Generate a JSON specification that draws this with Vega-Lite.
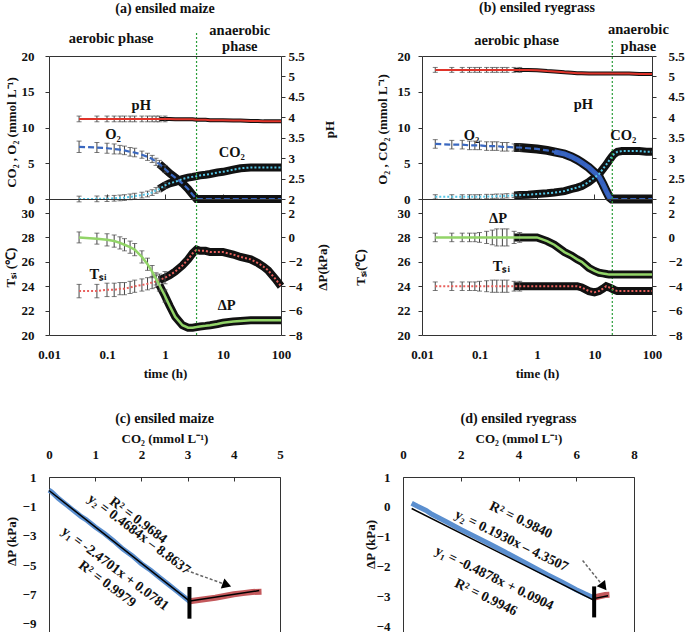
{
  "$schema": "https://vega.github.io/schema/vega-lite/v6.json",
  "background": "white",
  "padding": {"left": 3, "top": 0, "right": 2, "bottom": 2},
  "config": {
    "font": "Liberation Serif",
    "view": {"stroke": "#333", "strokeWidth": 1},
    "axis": {
      "labelFont": "Liberation Serif", "labelFontSize": 13, "labelFontWeight": "bold", "labelColor": "#111",
      "titleFont": "Liberation Serif", "titleFontSize": 13, "titleFontWeight": "bold", "titleColor": "#111",
      "grid": false, "domain": false, "tickColor": "#333", "tickSize": 4, "labelFlush": false, "labelOverlap": false, "tickCount": 20
    },
    "axisY": {"titleAngle": 270, "titleAlign": "center", "titleBaseline": "middle", "tickCount": 20},
    "title": {"font": "Liberation Serif", "fontSize": 14, "fontWeight": "bold", "color": "#111", "anchor": "middle"},
    "text": {"font": "Liberation Serif", "fontWeight": "bold", "fontSize": 14.5, "color": "#111"}
  },
  "datasets": {
    "ts": [
      {"p":"a","t":0.033,"O2":7.3,"CO2":0,"pH":3.96,"Tsi":23.6,"dP":0,"eO2":0.8,"eCO2":0.4,"epH":0.07,"eT":0.55,"edP":0.45},
      {"p":"a","t":0.067,"O2":7.2,"CO2":0.02,"pH":3.96,"Tsi":23.6,"dP":-0.1,"eO2":0.7,"eCO2":0.4,"epH":0.07,"eT":0.55,"edP":0.45},
      {"p":"a","t":0.1,"O2":7.1,"CO2":0.05,"pH":3.96,"Tsi":23.7,"dP":-0.2,"eO2":0.7,"eCO2":0.4,"epH":0.07,"eT":0.55,"edP":0.5},
      {"p":"a","t":0.133,"O2":7.0,"CO2":0.1,"pH":3.96,"Tsi":23.7,"dP":-0.3,"eO2":0.7,"eCO2":0.4,"epH":0.07,"eT":0.55,"edP":0.5},
      {"p":"a","t":0.167,"O2":6.9,"CO2":0.15,"pH":3.96,"Tsi":23.8,"dP":-0.45,"eO2":0.6,"eCO2":0.4,"epH":0.07,"eT":0.5,"edP":0.5},
      {"p":"a","t":0.2,"O2":6.8,"CO2":0.2,"pH":3.96,"Tsi":23.8,"dP":-0.6,"eO2":0.6,"eCO2":0.4,"epH":0.07,"eT":0.5,"edP":0.5},
      {"p":"a","t":0.25,"O2":6.6,"CO2":0.3,"pH":3.96,"Tsi":23.9,"dP":-0.8,"eO2":0.6,"eCO2":0.4,"epH":0.07,"eT":0.5,"edP":0.5},
      {"p":"a","t":0.3,"O2":6.5,"CO2":0.4,"pH":3.96,"Tsi":24.0,"dP":-1.0,"eO2":0.6,"eCO2":0.4,"epH":0.07,"eT":0.5,"edP":0.5},
      {"p":"a","t":0.4,"O2":6.2,"CO2":0.55,"pH":3.96,"Tsi":24.1,"dP":-1.6,"eO2":0.5,"eCO2":0.4,"epH":0.07,"eT":0.5,"edP":0.5},
      {"p":"a","t":0.5,"O2":5.9,"CO2":0.7,"pH":3.96,"Tsi":24.2,"dP":-2.2,"eO2":0.5,"eCO2":0.4,"epH":0.07,"eT":0.5,"edP":0.5},
      {"p":"a","t":0.6,"O2":5.6,"CO2":0.9,"pH":3.96,"Tsi":24.3,"dP":-2.8,"eO2":0.5,"eCO2":0.4,"epH":0.07,"eT":0.5,"edP":0.5},
      {"p":"a","t":0.7,"O2":5.2,"CO2":1.2,"pH":3.96,"Tsi":24.4,"dP":-3.4,"eO2":0.5,"eCO2":0.4,"epH":0.07,"eT":0.5,"edP":0.5},
      {"p":"a","t":0.8,"O2":4.9,"CO2":1.4,"pH":3.96,"Tsi":24.5,"dP":-3.9,"eO2":0.5,"eCO2":0.4,"epH":0.07,"eT":0.5,"edP":0.5},
      {"p":"a","t":1,"O2":4.2,"CO2":1.9,"pH":3.96,"Tsi":24.7,"dP":-4.8,"eO2":0.5,"eCO2":0.4,"epH":0.07,"eT":0.5,"edP":0.5},
      {"p":"a","t":1.2,"O2":3.6,"CO2":2.2,"pH":3.96,"Tsi":24.9,"dP":-5.6},
      {"p":"a","t":1.5,"O2":3.0,"CO2":2.4,"pH":3.95,"Tsi":25.2,"dP":-6.5},
      {"p":"a","t":2,"O2":2.2,"CO2":2.8,"pH":3.95,"Tsi":25.7,"dP":-7.2},
      {"p":"a","t":2.5,"O2":1.4,"CO2":3.0,"pH":3.95,"Tsi":26.2,"dP":-7.4},
      {"p":"a","t":3,"O2":0.6,"CO2":3.1,"pH":3.95,"Tsi":26.7,"dP":-7.4},
      {"p":"a","t":3.5,"O2":0,"CO2":3.2,"pH":3.94,"Tsi":27.0,"dP":-7.35},
      {"p":"a","t":4,"O2":0,"CO2":3.3,"pH":3.94,"Tsi":26.9,"dP":-7.3},
      {"p":"a","t":5,"O2":0,"CO2":3.4,"pH":3.94,"Tsi":26.9,"dP":-7.25},
      {"p":"a","t":6,"O2":0,"CO2":3.5,"pH":3.93,"Tsi":26.8,"dP":-7.2},
      {"p":"a","t":8,"O2":0,"CO2":3.7,"pH":3.93,"Tsi":26.8,"dP":-7.1},
      {"p":"a","t":10,"O2":0,"CO2":3.8,"pH":3.93,"Tsi":26.8,"dP":-7.0},
      {"p":"a","t":15,"O2":0,"CO2":4.1,"pH":3.92,"Tsi":26.6,"dP":-6.9},
      {"p":"a","t":20,"O2":0,"CO2":4.3,"pH":3.92,"Tsi":26.4,"dP":-6.85},
      {"p":"a","t":30,"O2":0,"CO2":4.4,"pH":3.91,"Tsi":26.2,"dP":-6.8},
      {"p":"a","t":40,"O2":0,"CO2":4.4,"pH":3.91,"Tsi":25.9,"dP":-6.8},
      {"p":"a","t":50,"O2":0,"CO2":4.4,"pH":3.9,"Tsi":25.6,"dP":-6.8},
      {"p":"a","t":60,"O2":0,"CO2":4.4,"pH":3.9,"Tsi":25.3,"dP":-6.8},
      {"p":"a","t":80,"O2":0,"CO2":4.4,"pH":3.9,"Tsi":24.6,"dP":-6.8},
      {"p":"a","t":100,"O2":0,"CO2":4.4,"pH":3.9,"Tsi":24.0,"dP":-6.8},
      {"p":"b","t":0.017,"O2":7.7,"CO2":0.3,"pH":5.16,"Tsi":24.0,"dP":0,"eO2":0.6,"eCO2":0.3,"epH":0.06,"eT":0.35,"edP":0.35},
      {"p":"b","t":0.033,"O2":7.6,"CO2":0.3,"pH":5.16,"Tsi":24.0,"dP":0,"eO2":0.6,"eCO2":0.3,"epH":0.06,"eT":0.35,"edP":0.35},
      {"p":"b","t":0.05,"O2":7.6,"CO2":0.3,"pH":5.16,"Tsi":24.0,"dP":0,"eO2":0.6,"eCO2":0.3,"epH":0.06,"eT":0.35,"edP":0.35},
      {"p":"b","t":0.067,"O2":7.5,"CO2":0.3,"pH":5.16,"Tsi":24.0,"dP":0,"eO2":0.6,"eCO2":0.3,"epH":0.06,"eT":0.35,"edP":0.35},
      {"p":"b","t":0.083,"O2":7.5,"CO2":0.3,"pH":5.16,"Tsi":24.0,"dP":0,"eO2":0.6,"eCO2":0.3,"epH":0.06,"eT":0.35,"edP":0.35},
      {"p":"b","t":0.1,"O2":7.5,"CO2":0.3,"pH":5.16,"Tsi":24.0,"dP":0,"eO2":0.6,"eCO2":0.3,"epH":0.06,"eT":0.4,"edP":0.4},
      {"p":"b","t":0.133,"O2":7.4,"CO2":0.35,"pH":5.16,"Tsi":24.0,"dP":0,"eO2":0.6,"eCO2":0.3,"epH":0.06,"eT":0.45,"edP":0.5},
      {"p":"b","t":0.167,"O2":7.4,"CO2":0.35,"pH":5.16,"Tsi":24.0,"dP":0,"eO2":0.6,"eCO2":0.3,"epH":0.06,"eT":0.5,"edP":0.6},
      {"p":"b","t":0.2,"O2":7.4,"CO2":0.4,"pH":5.16,"Tsi":24.0,"dP":0,"eO2":0.6,"eCO2":0.3,"epH":0.06,"eT":0.5,"edP":0.7},
      {"p":"b","t":0.25,"O2":7.3,"CO2":0.4,"pH":5.16,"Tsi":24.0,"dP":0,"eO2":0.6,"eCO2":0.3,"epH":0.06,"eT":0.5,"edP":0.7},
      {"p":"b","t":0.3,"O2":7.3,"CO2":0.45,"pH":5.16,"Tsi":24.0,"dP":0,"eO2":0.6,"eCO2":0.3,"epH":0.06,"eT":0.5,"edP":0.7},
      {"p":"b","t":0.4,"O2":7.2,"CO2":0.5,"pH":5.16,"Tsi":24.0,"dP":0,"eO2":0.5,"eCO2":0.3,"epH":0.06,"eT":0.4,"edP":0.5},
      {"p":"b","t":0.5,"O2":7.2,"CO2":0.55,"pH":5.16,"Tsi":24.0,"dP":0,"eO2":0.5,"eCO2":0.3,"epH":0.06,"eT":0.4,"edP":0.4},
      {"p":"b","t":0.7,"O2":7.1,"CO2":0.6,"pH":5.16,"Tsi":24.0,"dP":0},
      {"p":"b","t":1,"O2":7.0,"CO2":0.7,"pH":5.15,"Tsi":24.0,"dP":0},
      {"p":"b","t":1.5,"O2":6.8,"CO2":0.8,"pH":5.13,"Tsi":24.0,"dP":-0.3},
      {"p":"b","t":2,"O2":6.6,"CO2":0.9,"pH":5.12,"Tsi":24.0,"dP":-0.6},
      {"p":"b","t":3,"O2":6.3,"CO2":1.1,"pH":5.1,"Tsi":24.0,"dP":-1.2},
      {"p":"b","t":4,"O2":5.9,"CO2":1.4,"pH":5.09,"Tsi":24.0,"dP":-1.5},
      {"p":"b","t":5,"O2":5.5,"CO2":1.6,"pH":5.08,"Tsi":24.0,"dP":-1.8},
      {"p":"b","t":6,"O2":5.1,"CO2":1.8,"pH":5.08,"Tsi":23.9,"dP":-2.0},
      {"p":"b","t":8,"O2":4.4,"CO2":2.4,"pH":5.07,"Tsi":23.6,"dP":-2.5},
      {"p":"b","t":10,"O2":3.7,"CO2":3.0,"pH":5.07,"Tsi":23.5,"dP":-2.75},
      {"p":"b","t":12,"O2":3.1,"CO2":3.5,"pH":5.07,"Tsi":23.6,"dP":-2.9},
      {"p":"b","t":14,"O2":2.1,"CO2":4.2,"pH":5.07,"Tsi":23.8,"dP":-2.95},
      {"p":"b","t":16,"O2":1.1,"CO2":4.8,"pH":5.07,"Tsi":24.0,"dP":-3.0},
      {"p":"b","t":18,"O2":0.3,"CO2":5.4,"pH":5.07,"Tsi":23.9,"dP":-3.05},
      {"p":"b","t":20,"O2":0,"CO2":5.9,"pH":5.07,"Tsi":23.8,"dP":-3.05},
      {"p":"b","t":22,"O2":0,"CO2":6.3,"pH":5.07,"Tsi":23.7,"dP":-3.05},
      {"p":"b","t":25,"O2":0,"CO2":6.6,"pH":5.07,"Tsi":23.6,"dP":-3.05},
      {"p":"b","t":30,"O2":0,"CO2":6.7,"pH":5.07,"Tsi":23.6,"dP":-3.05},
      {"p":"b","t":40,"O2":0,"CO2":6.7,"pH":5.07,"Tsi":23.6,"dP":-3.05},
      {"p":"b","t":60,"O2":0,"CO2":6.7,"pH":5.06,"Tsi":23.6,"dP":-3.05},
      {"p":"b","t":80,"O2":0,"CO2":6.6,"pH":5.06,"Tsi":23.6,"dP":-3.05},
      {"p":"b","t":100,"O2":0,"CO2":6.6,"pH":5.06,"Tsi":23.6,"dP":-3.05}
    ],
    "vl": [
      {"p":"a1","t":3.5,"v":0,"v2":23.5},
      {"p":"a2","t":3.5,"v":20,"v2":31.15},
      {"p":"b1","t":20.4,"v":0,"v2":22.1},
      {"p":"b2","t":20.4,"v":20,"v2":31.15}
    ],
    "lab": [
      {"p":"a1","t":0.39,"v":13.0,"txt":"pH"},
      {"p":"a1","t":0.127,"v":8.9,"txt":"O₂"},
      {"p":"a1","t":14.2,"v":6.5,"txt":"CO₂"},
      {"p":"a1","t":0.118,"v":22.4,"txt":"aerobic phase"},
      {"p":"a1","t":19.5,"v":23.5,"txt":"anaerobic\nphase"},
      {"p":"a2","t":0.07,"v":24.9,"txt":"Tₛᵢ"},
      {"p":"a2","t":11.6,"v":22.35,"txt":"ΔP"},
      {"p":"b1","t":0.073,"v":8.85,"txt":"O₂"},
      {"p":"b1","t":6.4,"v":13.1,"txt":"pH"},
      {"p":"b1","t":31.7,"v":8.85,"txt":"CO₂"},
      {"p":"b1","t":0.44,"v":22.1,"txt":"aerobic phase"},
      {"p":"b1","t":57.9,"v":23.6,"txt":"anaerobic\nphase"},
      {"p":"b2","t":0.21,"v":29.5,"txt":"ΔP"},
      {"p":"b2","t":0.24,"v":25.55,"txt":"Tₛᵢ"}
    ],
    "sc": [
      {"p":"c","g":"y1","x":0,"y":0.1},{"p":"c","g":"y1","x":0.05,"y":0.0},{"p":"c","g":"y1","x":0.1,"y":-0.15},
      {"p":"c","g":"y1","x":0.2,"y":-0.45},{"p":"c","g":"y1","x":0.3,"y":-0.7},{"p":"c","g":"y1","x":0.4,"y":-0.95},
      {"p":"c","g":"y1","x":0.5,"y":-1.2},{"p":"c","g":"y1","x":0.6,"y":-1.45},{"p":"c","g":"y1","x":0.7,"y":-1.7},
      {"p":"c","g":"y1","x":0.8,"y":-1.9},{"p":"c","g":"y1","x":0.9,"y":-2.15},{"p":"c","g":"y1","x":1.0,"y":-2.4},
      {"p":"c","g":"y1","x":1.2,"y":-2.85},{"p":"c","g":"y1","x":1.4,"y":-3.35},{"p":"c","g":"y1","x":1.6,"y":-3.9},
      {"p":"c","g":"y1","x":1.8,"y":-4.35},{"p":"c","g":"y1","x":2.0,"y":-4.9},{"p":"c","g":"y1","x":2.2,"y":-5.35},
      {"p":"c","g":"y1","x":2.4,"y":-5.85},{"p":"c","g":"y1","x":2.6,"y":-6.35},{"p":"c","g":"y1","x":2.8,"y":-6.85},
      {"p":"c","g":"y1","x":3.0,"y":-7.35},{"p":"c","g":"y1","x":3.05,"y":-7.5},
      {"p":"c","g":"y2","x":3.05,"y":-7.45},{"p":"c","g":"y2","x":3.2,"y":-7.38},{"p":"c","g":"y2","x":3.4,"y":-7.3},
      {"p":"c","g":"y2","x":3.6,"y":-7.22},{"p":"c","g":"y2","x":3.8,"y":-7.1},{"p":"c","g":"y2","x":4.0,"y":-6.98},
      {"p":"c","g":"y2","x":4.2,"y":-6.9},{"p":"c","g":"y2","x":4.4,"y":-6.82},{"p":"c","g":"y2","x":4.6,"y":-6.8},
      {"p":"d","g":"y1","x":0.3,"y":0.12},{"p":"d","g":"y1","x":0.5,"y":0.02},{"p":"d","g":"y1","x":0.8,"y":-0.12},
      {"p":"d","g":"y1","x":1.0,"y":-0.25},{"p":"d","g":"y1","x":1.5,"y":-0.5},{"p":"d","g":"y1","x":2.0,"y":-0.76},
      {"p":"d","g":"y1","x":2.5,"y":-1.0},{"p":"d","g":"y1","x":3.0,"y":-1.25},{"p":"d","g":"y1","x":3.5,"y":-1.5},
      {"p":"d","g":"y1","x":4.0,"y":-1.76},{"p":"d","g":"y1","x":4.5,"y":-2.02},{"p":"d","g":"y1","x":5.0,"y":-2.28},
      {"p":"d","g":"y1","x":5.5,"y":-2.52},{"p":"d","g":"y1","x":6.0,"y":-2.78},{"p":"d","g":"y1","x":6.3,"y":-2.92},
      {"p":"d","g":"y1","x":6.6,"y":-3.05},
      {"p":"d","g":"y2","x":6.6,"y":-3.05},{"p":"d","g":"y2","x":6.8,"y":-3.0},{"p":"d","g":"y2","x":7.0,"y":-2.96},
      {"p":"d","g":"y2","x":7.15,"y":-2.95}
    ],
    "fit": [
      {"p":"c","g":"y1","x":0,"y":0.08},{"p":"c","g":"y1","x":3.05,"y":-7.46},
      {"p":"c","g":"y2","x":3.05,"y":-7.43},{"p":"c","g":"y2","x":4.55,"y":-6.73},
      {"p":"d","g":"y1","x":0.3,"y":-0.056},{"p":"d","g":"y1","x":6.6,"y":-3.13},
      {"p":"d","g":"y2","x":6.6,"y":-3.08},{"p":"d","g":"y2","x":7.1,"y":-2.98}
    ],
    "bar": [
      {"p":"c","x":3.04,"y":-8.64,"y2":-6.48},
      {"p":"d","x":6.62,"y":-3.71,"y2":-2.67}
    ],
    "arr": [
      {"p":"c","x":2.97,"y":-5.35,"x2":3.85,"y2":-6.35},
      {"p":"d","x":6.22,"y":-1.8,"x2":6.95,"y2":-2.68}
    ],
    "eq": [
      {"p":"c","x":1.93,"y":-1.95,"txt":"R² = 0.9684"},
      {"p":"c","x":1.95,"y":-2.9,"txt":"y₂ = 0.4684x – 8.8637"},
      {"p":"c","x":1.43,"y":-5.24,"txt":"y₁ = -2.4701x + 0.0781"},
      {"p":"c","x":1.26,"y":-6.29,"txt":"R² = 0.9979"},
      {"p":"d","x":4.08,"y":-0.45,"txt":"R² = 0.9840"},
      {"p":"d","x":3.76,"y":-1.14,"txt":"y₂ = 0.1930x – 4.3507"},
      {"p":"d","x":3.16,"y":-2.4,"txt":"y₁ = -0.4878x + 0.0904"},
      {"p":"d","x":2.87,"y":-3.04,"txt":"R² = 0.9946"}
    ]
  },
  "vconcat": [
    {
      "hconcat": [
        {
          "vconcat": [
            {
              "width": 232, "height": 143,
              "title": {"text": "(a) ensiled maize", "offset": 7},
              "encoding": {"x": {"field": "t", "type": "quantitative", "scale": {"type": "log", "domain": [0.01, 100]}, "axis": {"values": [0.1, 1, 10], "labels": false, "title": null, "tickSize": -5}}},
              "layer": [
                {"layer": [
                  {"data": {"name": "ts"}, "transform": [{"filter": "datum.p=='a' && datum.t>=0.8"}], "mark": {"type": "line", "color": "#111", "strokeWidth": 8}, "encoding": {"y": {"field": "O2", "type": "quantitative", "title": "CO₂ , O₂ (mmol L⁻¹)", "scale": {"domain": [0, 20]}, "axis": {"values": [0, 5, 10, 15, 20], "format": "~g", "tickCount": 20, "labelPadding": 11, "titleX": -38, "titleY": 76}}}},
                  {"data": {"name": "ts"}, "transform": [{"filter": "datum.p=='a' && datum.t>=0.8"}], "mark": {"type": "line", "color": "#111", "strokeWidth": 8}, "encoding": {"y": {"field": "CO2", "type": "quantitative", "title": "CO₂ , O₂ (mmol L⁻¹)", "scale": {"domain": [0, 20]}}}},
                  {"data": {"name": "ts"}, "transform": [{"filter": "datum.p=='a' && isValid(datum.eO2)"}], "mark": {"type": "errorbar", "ticks": {"size": 5}, "color": "#444"}, "encoding": {"y": {"field": "O2", "type": "quantitative", "title": "CO₂ , O₂ (mmol L⁻¹)", "scale": {"domain": [0, 20]}}, "yError": {"field": "eO2"}}},
                  {"data": {"name": "ts"}, "transform": [{"filter": "datum.p=='a' && isValid(datum.eCO2)"}], "mark": {"type": "errorbar", "ticks": {"size": 5}, "color": "#444"}, "encoding": {"y": {"field": "CO2", "type": "quantitative", "title": "CO₂ , O₂ (mmol L⁻¹)", "scale": {"domain": [0, 20]}}, "yError": {"field": "eCO2"}}},
                  {"data": {"name": "ts"}, "transform": [{"filter": "datum.p=='a'"}], "mark": {"type": "line", "color": "#3a68c0", "strokeWidth": 2.2, "strokeDash": [6, 3]}, "encoding": {"y": {"field": "O2", "type": "quantitative", "title": "CO₂ , O₂ (mmol L⁻¹)", "scale": {"domain": [0, 20]}}}},
                  {"data": {"name": "ts"}, "transform": [{"filter": "datum.p=='a'"}], "mark": {"type": "line", "color": "#55c6e6", "strokeWidth": 2, "strokeDash": [2, 2]}, "encoding": {"y": {"field": "CO2", "type": "quantitative", "title": "CO₂ , O₂ (mmol L⁻¹)", "scale": {"domain": [0, 20]}}}},
                  {"data": {"name": "vl"}, "transform": [{"filter": "datum.p=='a1'"}], "mark": {"type": "rule", "color": "#2a9d3a", "strokeDash": [2, 2], "strokeWidth": 1.2}, "encoding": {"y": {"field": "v", "type": "quantitative", "title": "CO₂ , O₂ (mmol L⁻¹)", "scale": {"domain": [0, 20]}}, "y2": {"field": "v2"}}},
                  {"data": {"name": "lab"}, "transform": [{"filter": "datum.p=='a1'"}], "mark": {"type": "text", "lineBreak": "\n"}, "encoding": {"y": {"field": "v", "type": "quantitative", "title": "CO₂ , O₂ (mmol L⁻¹)", "scale": {"domain": [0, 20]}}, "text": {"field": "txt"}}}
                ]},
                {"layer": [
                  {"data": {"name": "ts"}, "transform": [{"filter": "datum.p=='a' && datum.t>=0.8"}], "mark": {"type": "line", "color": "#111", "strokeWidth": 4}, "encoding": {"y": {"field": "pH", "type": "quantitative", "title": "pH", "scale": {"domain": [2, 5.5]}, "axis": {"orient": "right", "values": [2, 2.5, 3, 3.5, 4, 4.5, 5, 5.5], "tickCount": 20, "format": "~g", "labelPadding": 3, "titleX": 48, "titleY": 73}}}},
                  {"data": {"name": "ts"}, "transform": [{"filter": "datum.p=='a' && isValid(datum.epH)"}], "mark": {"type": "errorbar", "ticks": {"size": 5}, "color": "#444"}, "encoding": {"y": {"field": "pH", "type": "quantitative", "title": "pH", "scale": {"domain": [2, 5.5]}}, "yError": {"field": "epH"}}},
                  {"data": {"name": "ts"}, "transform": [{"filter": "datum.p=='a'"}], "mark": {"type": "line", "color": "#e0342a", "strokeWidth": 2}, "encoding": {"y": {"field": "pH", "type": "quantitative", "title": "pH", "scale": {"domain": [2, 5.5]}}}}
                ]}
              ],
              "resolve": {"scale": {"y": "independent"}}
            },
            {
              "width": 232, "height": 136,
              "encoding": {"x": {"field": "t", "type": "quantitative", "scale": {"type": "log", "domain": [0.01, 100]}, "axis": {"values": [0.01, 0.1, 1, 10, 100], "format": "~g", "title": "time (h)", "ticks": false, "labelPadding": 13, "titlePadding": 6}}},
              "layer": [
                {"layer": [
                  {"data": {"name": "ts"}, "transform": [{"filter": "datum.p=='a' && datum.t>=0.8"}], "mark": {"type": "line", "color": "#111", "strokeWidth": 8}, "encoding": {"y": {"field": "Tsi", "type": "quantitative", "title": "Tₛᵢ (℃)", "scale": {"domain": [20, 31.15], "nice": false}, "axis": {"values": [20, 22, 24, 26, 28, 30], "format": "~g", "tickCount": 20, "labelPadding": 11, "titleBaseline": "bottom", "titlePadding": 4}}}},
                  {"data": {"name": "ts"}, "transform": [{"filter": "datum.p=='a' && isValid(datum.eT)"}], "mark": {"type": "errorbar", "ticks": {"size": 5}, "color": "#444"}, "encoding": {"y": {"field": "Tsi", "type": "quantitative", "title": "Tₛᵢ (℃)", "scale": {"domain": [20, 31.15], "nice": false}}, "yError": {"field": "eT"}}},
                  {"data": {"name": "ts"}, "transform": [{"filter": "datum.p=='a'"}], "mark": {"type": "line", "color": "#e8605c", "strokeWidth": 2, "strokeDash": [2, 2]}, "encoding": {"y": {"field": "Tsi", "type": "quantitative", "title": "Tₛᵢ (℃)", "scale": {"domain": [20, 31.15], "nice": false}}}},
                  {"data": {"name": "vl"}, "transform": [{"filter": "datum.p=='a2'"}], "mark": {"type": "rule", "color": "#2a9d3a", "strokeDash": [2, 2], "strokeWidth": 1.2}, "encoding": {"y": {"field": "v", "type": "quantitative", "title": "Tₛᵢ (℃)", "scale": {"domain": [20, 31.15], "nice": false}}, "y2": {"field": "v2"}}},
                  {"data": {"name": "lab"}, "transform": [{"filter": "datum.p=='a2'"}], "mark": {"type": "text"}, "encoding": {"y": {"field": "v", "type": "quantitative", "title": "Tₛᵢ (℃)", "scale": {"domain": [20, 31.15], "nice": false}}, "text": {"field": "txt"}}}
                ]},
                {"layer": [
                  {"data": {"name": "ts"}, "transform": [{"filter": "datum.p=='a' && datum.t>=0.8"}], "mark": {"type": "line", "color": "#111", "strokeWidth": 8}, "encoding": {"y": {"field": "dP", "type": "quantitative", "title": "ΔP(kPa)", "scale": {"domain": [-8, 3.15], "nice": false}, "axis": {"orient": "right", "values": [-8, -6, -4, -2, 0, 2], "tickCount": 20, "format": "~g", "labelPadding": 3, "titleBaseline": "top", "titlePadding": 15}}}},
                  {"data": {"name": "ts"}, "transform": [{"filter": "datum.p=='a' && isValid(datum.edP)"}], "mark": {"type": "errorbar", "ticks": {"size": 5}, "color": "#444"}, "encoding": {"y": {"field": "dP", "type": "quantitative", "title": "ΔP(kPa)", "scale": {"domain": [-8, 3.15], "nice": false}}, "yError": {"field": "edP"}}},
                  {"data": {"name": "ts"}, "transform": [{"filter": "datum.p=='a'"}], "mark": {"type": "line", "color": "#92d468", "strokeWidth": 2.5}, "encoding": {"y": {"field": "dP", "type": "quantitative", "title": "ΔP(kPa)", "scale": {"domain": [-8, 3.15], "nice": false}}}}
                ]}
              ],
              "resolve": {"scale": {"y": "independent"}}
            }
          ],
          "spacing": 0,
          "bounds": "flush"
        },
        {
          "vconcat": [
            {
              "width": 230, "height": 143,
              "title": {"text": "(b) ensiled ryegrass", "offset": 7},
              "encoding": {"x": {"field": "t", "type": "quantitative", "scale": {"type": "log", "domain": [0.01, 100]}, "axis": {"values": [0.1, 1, 10], "labels": false, "title": null, "tickSize": -5}}},
              "layer": [
                {"layer": [
                  {"data": {"name": "ts"}, "transform": [{"filter": "datum.p=='b' && datum.t>=0.4"}], "mark": {"type": "line", "color": "#111", "strokeWidth": 9}, "encoding": {"y": {"field": "O2", "type": "quantitative", "title": "O₂ , CO₂ (mmol L⁻¹)", "scale": {"domain": [0, 20]}, "axis": {"values": [0, 5, 10, 15, 20], "format": "~g", "tickCount": 20, "labelPadding": 8, "titleX": -40, "titleY": 73}}}},
                  {"data": {"name": "ts"}, "transform": [{"filter": "datum.p=='b' && datum.t>=0.4"}], "mark": {"type": "line", "color": "#111", "strokeWidth": 8}, "encoding": {"y": {"field": "CO2", "type": "quantitative", "title": "O₂ , CO₂ (mmol L⁻¹)", "scale": {"domain": [0, 20]}}}},
                  {"data": {"name": "ts"}, "transform": [{"filter": "datum.p=='b' && datum.t>=2 && datum.t<=20"}], "mark": {"type": "line", "color": "#3560c0", "strokeWidth": 5}, "encoding": {"y": {"field": "O2", "type": "quantitative", "title": "O₂ , CO₂ (mmol L⁻¹)", "scale": {"domain": [0, 20]}}}},
                  {"data": {"name": "ts"}, "transform": [{"filter": "datum.p=='b' && isValid(datum.eO2)"}], "mark": {"type": "errorbar", "ticks": {"size": 5}, "color": "#444"}, "encoding": {"y": {"field": "O2", "type": "quantitative", "title": "O₂ , CO₂ (mmol L⁻¹)", "scale": {"domain": [0, 20]}}, "yError": {"field": "eO2"}}},
                  {"data": {"name": "ts"}, "transform": [{"filter": "datum.p=='b' && isValid(datum.eCO2)"}], "mark": {"type": "errorbar", "ticks": {"size": 5}, "color": "#444"}, "encoding": {"y": {"field": "CO2", "type": "quantitative", "title": "O₂ , CO₂ (mmol L⁻¹)", "scale": {"domain": [0, 20]}}, "yError": {"field": "eCO2"}}},
                  {"data": {"name": "ts"}, "transform": [{"filter": "datum.p=='b'"}], "mark": {"type": "line", "color": "#3a68c0", "strokeWidth": 2.2, "strokeDash": [6, 3]}, "encoding": {"y": {"field": "O2", "type": "quantitative", "title": "O₂ , CO₂ (mmol L⁻¹)", "scale": {"domain": [0, 20]}}}},
                  {"data": {"name": "ts"}, "transform": [{"filter": "datum.p=='b'"}], "mark": {"type": "line", "color": "#55c6e6", "strokeWidth": 2, "strokeDash": [2, 2]}, "encoding": {"y": {"field": "CO2", "type": "quantitative", "title": "O₂ , CO₂ (mmol L⁻¹)", "scale": {"domain": [0, 20]}}}},
                  {"data": {"name": "vl"}, "transform": [{"filter": "datum.p=='b1'"}], "mark": {"type": "rule", "color": "#2a9d3a", "strokeDash": [2, 2], "strokeWidth": 1.2}, "encoding": {"y": {"field": "v", "type": "quantitative", "title": "O₂ , CO₂ (mmol L⁻¹)", "scale": {"domain": [0, 20]}}, "y2": {"field": "v2"}}},
                  {"data": {"name": "lab"}, "transform": [{"filter": "datum.p=='b1'"}], "mark": {"type": "text", "lineBreak": "\n"}, "encoding": {"y": {"field": "v", "type": "quantitative", "title": "O₂ , CO₂ (mmol L⁻¹)", "scale": {"domain": [0, 20]}}, "text": {"field": "txt"}}}
                ]},
                {"layer": [
                  {"data": {"name": "ts"}, "transform": [{"filter": "datum.p=='b' && datum.t>=0.4"}], "mark": {"type": "line", "color": "#111", "strokeWidth": 4}, "encoding": {"y": {"field": "pH", "type": "quantitative", "title": "pH", "scale": {"domain": [2, 5.5]}, "axis": {"orient": "right", "values": [2, 2.5, 3, 3.5, 4, 4.5, 5, 5.5], "tickCount": 20, "format": "~g", "labelPadding": 12, "titleX": 42, "titleY": 60}}}},
                  {"data": {"name": "ts"}, "transform": [{"filter": "datum.p=='b' && isValid(datum.epH)"}], "mark": {"type": "errorbar", "ticks": {"size": 5}, "color": "#444"}, "encoding": {"y": {"field": "pH", "type": "quantitative", "title": "pH", "scale": {"domain": [2, 5.5]}}, "yError": {"field": "epH"}}},
                  {"data": {"name": "ts"}, "transform": [{"filter": "datum.p=='b'"}], "mark": {"type": "line", "color": "#e0342a", "strokeWidth": 2}, "encoding": {"y": {"field": "pH", "type": "quantitative", "title": "pH", "scale": {"domain": [2, 5.5]}}}}
                ]}
              ],
              "resolve": {"scale": {"y": "independent"}}
            },
            {
              "width": 230, "height": 136,
              "encoding": {"x": {"field": "t", "type": "quantitative", "scale": {"type": "log", "domain": [0.01, 100]}, "axis": {"values": [0.01, 0.1, 1, 10, 100], "format": "~g", "title": "time (h)", "ticks": false, "labelPadding": 13, "titlePadding": 6}}},
              "layer": [
                {"layer": [
                  {"data": {"name": "ts"}, "transform": [{"filter": "datum.p=='b' && datum.t>=0.4"}], "mark": {"type": "line", "color": "#111", "strokeWidth": 8}, "encoding": {"y": {"field": "Tsi", "type": "quantitative", "title": "Tₛᵢ(℃)", "scale": {"domain": [20, 31.15], "nice": false}, "axis": {"values": [20, 22, 24, 26, 28, 30], "format": "~g", "tickCount": 20, "labelPadding": 8, "titleBaseline": "bottom", "titlePadding": 30}}}},
                  {"data": {"name": "ts"}, "transform": [{"filter": "datum.p=='b' && isValid(datum.eT)"}], "mark": {"type": "errorbar", "ticks": {"size": 5}, "color": "#444"}, "encoding": {"y": {"field": "Tsi", "type": "quantitative", "title": "Tₛᵢ(℃)", "scale": {"domain": [20, 31.15], "nice": false}}, "yError": {"field": "eT"}}},
                  {"data": {"name": "ts"}, "transform": [{"filter": "datum.p=='b'"}], "mark": {"type": "line", "color": "#e8605c", "strokeWidth": 2, "strokeDash": [2, 2]}, "encoding": {"y": {"field": "Tsi", "type": "quantitative", "title": "Tₛᵢ(℃)", "scale": {"domain": [20, 31.15], "nice": false}}}},
                  {"data": {"name": "vl"}, "transform": [{"filter": "datum.p=='b2'"}], "mark": {"type": "rule", "color": "#2a9d3a", "strokeDash": [2, 2], "strokeWidth": 1.2}, "encoding": {"y": {"field": "v", "type": "quantitative", "title": "Tₛᵢ(℃)", "scale": {"domain": [20, 31.15], "nice": false}}, "y2": {"field": "v2"}}},
                  {"data": {"name": "lab"}, "transform": [{"filter": "datum.p=='b2'"}], "mark": {"type": "text"}, "encoding": {"y": {"field": "v", "type": "quantitative", "title": "Tₛᵢ(℃)", "scale": {"domain": [20, 31.15], "nice": false}}, "text": {"field": "txt"}}}
                ]},
                {"layer": [
                  {"data": {"name": "ts"}, "transform": [{"filter": "datum.p=='b' && datum.t>=0.4"}], "mark": {"type": "line", "color": "#111", "strokeWidth": 8}, "encoding": {"y": {"field": "dP", "type": "quantitative", "title": "ΔP(kPa)", "scale": {"domain": [-8, 3.15], "nice": false}, "axis": {"orient": "right", "values": [-8, -6, -4, -2, 0, 2], "tickCount": 20, "format": "~g", "labelPadding": 12, "titleX": 42, "titleY": 63}}}},
                  {"data": {"name": "ts"}, "transform": [{"filter": "datum.p=='b' && isValid(datum.edP)"}], "mark": {"type": "errorbar", "ticks": {"size": 5}, "color": "#444"}, "encoding": {"y": {"field": "dP", "type": "quantitative", "title": "ΔP(kPa)", "scale": {"domain": [-8, 3.15], "nice": false}}, "yError": {"field": "edP"}}},
                  {"data": {"name": "ts"}, "transform": [{"filter": "datum.p=='b'"}], "mark": {"type": "line", "color": "#92d468", "strokeWidth": 2.5}, "encoding": {"y": {"field": "dP", "type": "quantitative", "title": "ΔP(kPa)", "scale": {"domain": [-8, 3.15], "nice": false}}}}
                ]}
              ],
              "resolve": {"scale": {"y": "independent"}}
            }
          ],
          "spacing": 0,
          "bounds": "flush"
        }
      ],
      "spacing": 16
    },
    {
      "hconcat": [
        {
          "width": 231, "height": 158,
          "title": {"text": "(c) ensiled maize", "offset": 6},
          "encoding": {"x": {"field": "x", "type": "quantitative", "title": "CO₂ (mmol L⁻¹)", "scale": {"domain": [0, 5]}, "axis": {"orient": "top", "values": [0, 1, 2, 3, 4, 5], "format": "~g", "tickSize": -4, "labelPadding": 20, "titlePadding": 3}}},
          "layer": [
            {"data": {"name": "sc"}, "transform": [{"filter": "datum.p=='c' && datum.g=='y1'"}], "mark": {"type": "line", "color": "#5b8fcf", "strokeWidth": 5}, "encoding": {"y": {"field": "y", "type": "quantitative", "title": "ΔP (kPa)", "scale": {"domain": [-9.75, 1], "nice": false}, "axis": {"values": [-9, -7, -5, -3, -1, 1], "tickCount": 20, "format": "~g", "ticks": false, "labelPadding": 13, "titleX": -38, "titleY": 64}}}},
            {"data": {"name": "sc"}, "transform": [{"filter": "datum.p=='c' && datum.g=='y2'"}], "mark": {"type": "line", "color": "#c4595c", "strokeWidth": 6}, "encoding": {"y": {"field": "y", "type": "quantitative", "title": "ΔP (kPa)", "scale": {"domain": [-9.75, 1], "nice": false}}}},
            {"data": {"name": "fit"}, "transform": [{"filter": "datum.p=='c'"}], "mark": {"type": "line", "color": "#000", "strokeWidth": 1.5}, "encoding": {"y": {"field": "y", "type": "quantitative", "title": "ΔP (kPa)", "scale": {"domain": [-9.75, 1], "nice": false}}, "detail": {"field": "g"}}},
            {"data": {"name": "bar"}, "transform": [{"filter": "datum.p=='c'"}], "mark": {"type": "rule", "color": "#000", "strokeWidth": 4}, "encoding": {"y": {"field": "y", "type": "quantitative", "title": "ΔP (kPa)", "scale": {"domain": [-9.75, 1], "nice": false}}, "y2": {"field": "y2"}}},
            {"data": {"name": "arr"}, "transform": [{"filter": "datum.p=='c'"}], "mark": {"type": "rule", "color": "#666", "strokeWidth": 1.5, "strokeDash": [3, 2]}, "encoding": {"y": {"field": "y", "type": "quantitative", "title": "ΔP (kPa)", "scale": {"domain": [-9.75, 1], "nice": false}}, "x2": {"field": "x2"}, "y2": {"field": "y2"}}},
            {"data": {"name": "arr"}, "transform": [{"filter": "datum.p=='c'"}], "mark": {"type": "point", "shape": "triangle-right", "filled": true, "color": "#000", "opacity": 1, "size": 110, "angle": 20}, "encoding": {"x": {"field": "x2", "type": "quantitative", "title": "CO₂ (mmol L⁻¹)"}, "y": {"field": "y2", "type": "quantitative", "title": "ΔP (kPa)", "scale": {"domain": [-9.75, 1], "nice": false}}}},
            {"data": {"name": "eq"}, "transform": [{"filter": "datum.p=='c'"}], "mark": {"type": "text", "angle": 37, "fontSize": 14}, "encoding": {"y": {"field": "y", "type": "quantitative", "title": "ΔP (kPa)", "scale": {"domain": [-9.75, 1], "nice": false}}, "text": {"field": "txt"}}}
          ]
        },
        {
          "width": 231, "height": 158,
          "title": {"text": "(d) ensiled ryegrass", "offset": 6},
          "encoding": {"x": {"field": "x", "type": "quantitative", "title": "CO₂ (mmol L⁻¹)", "scale": {"domain": [0, 8]}, "axis": {"orient": "top", "values": [0, 2, 4, 6, 8], "format": "~g", "tickSize": -4, "labelPadding": 20, "titlePadding": 3}}},
          "layer": [
            {"data": {"name": "sc"}, "transform": [{"filter": "datum.p=='d' && datum.g=='y1'"}], "mark": {"type": "line", "color": "#5b8fcf", "strokeWidth": 5}, "encoding": {"y": {"field": "y", "type": "quantitative", "title": "ΔP (kPa)", "scale": {"domain": [-4.3, 1], "nice": false}, "axis": {"values": [-4, -3, -2, -1, 0, 1], "tickCount": 20, "format": "~g", "ticks": false, "labelPadding": 13, "titleX": -33, "titleY": 67}}}},
            {"data": {"name": "sc"}, "transform": [{"filter": "datum.p=='d' && datum.g=='y2'"}], "mark": {"type": "line", "color": "#c4595c", "strokeWidth": 6}, "encoding": {"y": {"field": "y", "type": "quantitative", "title": "ΔP (kPa)", "scale": {"domain": [-4.3, 1], "nice": false}}}},
            {"data": {"name": "fit"}, "transform": [{"filter": "datum.p=='d'"}], "mark": {"type": "line", "color": "#000", "strokeWidth": 1.5}, "encoding": {"y": {"field": "y", "type": "quantitative", "title": "ΔP (kPa)", "scale": {"domain": [-4.3, 1], "nice": false}}, "detail": {"field": "g"}}},
            {"data": {"name": "bar"}, "transform": [{"filter": "datum.p=='d'"}], "mark": {"type": "rule", "color": "#000", "strokeWidth": 4}, "encoding": {"y": {"field": "y", "type": "quantitative", "title": "ΔP (kPa)", "scale": {"domain": [-4.3, 1], "nice": false}}, "y2": {"field": "y2"}}},
            {"data": {"name": "arr"}, "transform": [{"filter": "datum.p=='d'"}], "mark": {"type": "rule", "color": "#666", "strokeWidth": 1.5, "strokeDash": [3, 2]}, "encoding": {"y": {"field": "y", "type": "quantitative", "title": "ΔP (kPa)", "scale": {"domain": [-4.3, 1], "nice": false}}, "x2": {"field": "x2"}, "y2": {"field": "y2"}}},
            {"data": {"name": "arr"}, "transform": [{"filter": "datum.p=='d'"}], "mark": {"type": "point", "shape": "triangle-right", "filled": true, "color": "#000", "opacity": 1, "size": 110, "angle": 52}, "encoding": {"x": {"field": "x2", "type": "quantitative", "title": "CO₂ (mmol L⁻¹)"}, "y": {"field": "y2", "type": "quantitative", "title": "ΔP (kPa)", "scale": {"domain": [-4.3, 1], "nice": false}}}},
            {"data": {"name": "eq"}, "transform": [{"filter": "datum.p=='d'"}], "mark": {"type": "text", "angle": 26, "fontSize": 14}, "encoding": {"y": {"field": "y", "type": "quantitative", "title": "ΔP (kPa)", "scale": {"domain": [-4.3, 1], "nice": false}}, "text": {"field": "txt"}}}
          ]
        }
      ],
      "spacing": 123,
      "bounds": "flush"
    }
  ],
  "spacing": 30
}
